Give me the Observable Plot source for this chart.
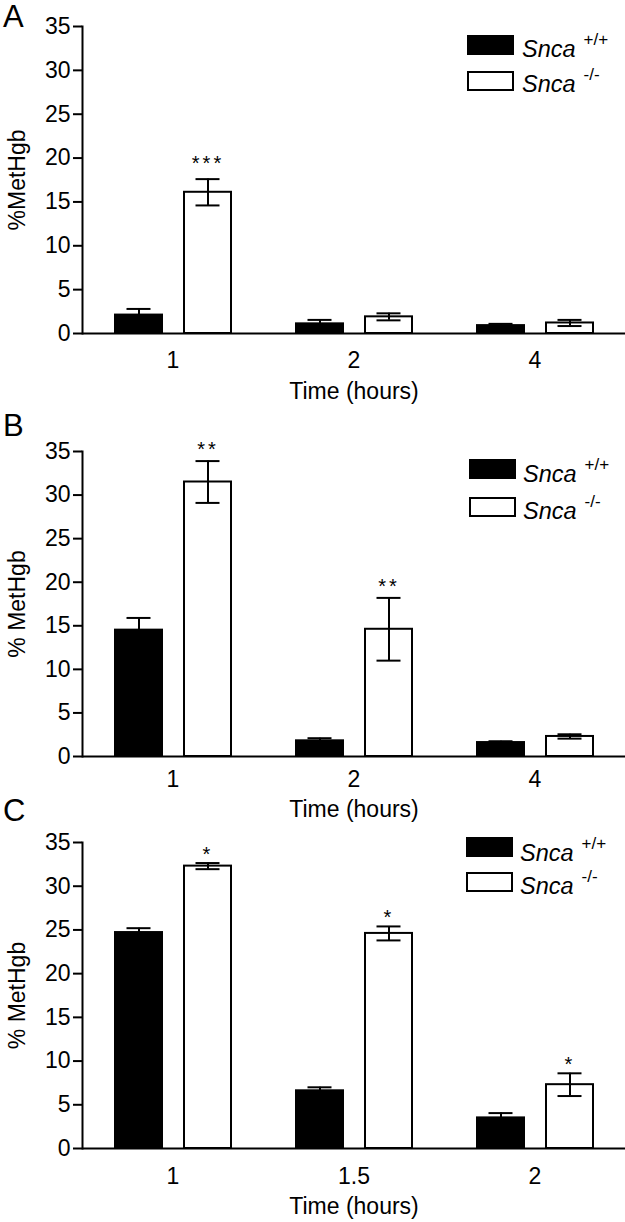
<!DOCTYPE html>
<html><head><meta charset="utf-8">
<script src="https://cdn.jsdelivr.net/npm/d3@7"></script>
<script src="https://cdn.jsdelivr.net/npm/@observablehq/plot@0.6"></script>
<style>
body{margin:0;background:#fff;}
#root{position:relative;width:625px;height:1222px;overflow:hidden;font-family:"Liberation Sans",Arial,Helvetica,sans-serif;color:#000;}
.panel{position:absolute;left:0;}
.letter{position:absolute;left:3px;font-size:31px;line-height:0.8;}
.sw{position:absolute;width:47px;height:20px;box-sizing:border-box;border:2px solid #000;}
.lt{position:absolute;font-size:23.5px;line-height:1;white-space:nowrap;}
.lt i{font-style:italic;}
.lt span{position:relative;font-size:17px;top:-12px;margin-left:8px;}
.sig text{letter-spacing:3px;}
</style></head><body><div id="root"></div>
<script>
const genotypes = ["+/+", "-/-"];
const yTicks = [0, 5, 10, 15, 20, 25, 30, 35];
const xLabel = "Time (hours)";

// Panel A
const timesA = ["1", "2", "4"];
const wtA = [2.1, 1.1, 0.9];
const wtSeA = [0.7, 0.45, 0.2];
const koA = [16.1, 1.9, 1.2];
const koSeA = [1.5, 0.4, 0.35];
const sigA = ["***", "", ""];

// Panel B
const timesB = ["1", "2", "4"];
const wtB = [14.5, 1.8, 1.6];
const wtSeB = [1.4, 0.3, 0.15];
const koB = [31.5, 14.6, 2.3];
const koSeB = [2.4, 3.6, 0.25];
const sigB = ["**", "**", ""];

// Panel C
const timesC = ["1", "1.5", "2"];
const wtC = [24.7, 6.6, 3.5];
const wtSeC = [0.5, 0.4, 0.55];
const koC = [32.3, 24.6, 7.3];
const koSeC = [0.35, 0.8, 1.3];
const sigC = ["*", "*", "*"];

const FONT = '"Liberation Sans", Arial, Helvetica, sans-serif';
const root = document.getElementById("root");

function makePanel(cfg) {
  const rows = [];
  cfg.times.forEach((t, i) => {
    rows.push({time: t, g: genotypes[0], mean: cfg.wt[i], se: cfg.wtSe[i], sig: ""});
    rows.push({time: t, g: genotypes[1], mean: cfg.ko[i], se: cfg.koSe[i], sig: cfg.sig[i]});
  });
  const chart = Plot.plot({
    width: 625,
    height: cfg.height,
    marginLeft: 82,
    marginRight: 0,
    marginTop: cfg.mt,
    marginBottom: cfg.mb,
    style: {fontFamily: FONT, fontSize: "23px", color: "#000", background: "#fff", overflow: "visible"},
    fx: {domain: cfg.times, padding: 0, axis: "bottom", label: xLabel, labelAnchor: "center", tickSize: 0, tickPadding: cfg.tp, labelOffset: cfg.lo},
    x: {domain: genotypes, paddingInner: 0.319, paddingOuter: 0.471, axis: null},
    y: {domain: [0, 35]},
    color: {domain: genotypes, range: ["#000", "#fff"]},
    marks: [
      Plot.barY(rows, {fx: "time", x: "g", y: "mean", fill: "g", stroke: "#000", strokeWidth: 2}),
      Plot.ruleX(rows, {fx: "time", x: "g", y1: d => d.mean - d.se, y2: d => d.mean + d.se, stroke: "#000", strokeWidth: 2}),
      Plot.tickY(rows, {fx: "time", x: "g", y: d => d.mean + d.se, stroke: "#000", strokeWidth: 2, insetLeft: 11.5, insetRight: 11.5}),
      Plot.tickY(rows, {fx: "time", x: "g", y: d => d.mean - d.se, stroke: "#000", strokeWidth: 2, insetLeft: 11.5, insetRight: 11.5}),
      Plot.ruleY([0], {stroke: "#000", strokeWidth: 2}),
      Plot.text(rows.filter(d => d.sig), {fx: "time", x: "g", y: d => d.mean + d.se, text: "sig", lineAnchor: "bottom", dy: cfg.sdy, fontSize: 20, fill: "#000", className: "sig"}),
      Plot.axisY({ticks: yTicks, tickSize: 9, tickPadding: 3, strokeWidth: 2, label: cfg.ylabel, labelAnchor: "center", labelArrow: "none", labelOffset: 74, tickFormat: d => String(d)}),
      Plot.frame({anchor: "left", facetAnchor: "left", stroke: "#000", strokeWidth: 2})
    ]
  });
  const wrap = document.createElement("div");
  wrap.className = "panel";
  wrap.style.top = cfg.top + "px";
  wrap.appendChild(chart);
  root.appendChild(wrap);

  // panel letter
  const L = document.createElement("div");
  L.className = "letter";
  L.textContent = cfg.letter;
  L.style.top = Math.max(0, cfg.letterBase - 0.7465 * 31) + "px";
  root.appendChild(L);

  // legend
  const lg = cfg.legend;
  [["#000", genotypes[0], lg.r1, lg.b1], ["#fff", genotypes[1], lg.r2, lg.b2]].forEach(([c, g, rt, base]) => {
    const sw = document.createElement("div");
    sw.className = "sw";
    sw.style.left = lg.x + "px";
    sw.style.top = rt + "px";
    sw.style.background = c;
    root.appendChild(sw);
    const t = document.createElement("div");
    t.className = "lt";
    t.style.left = lg.tx + "px";
    t.style.top = (base - 0.8465 * 23.5) + "px";
    t.innerHTML = "<i>Snca</i><span>" + g + "</span>";
    root.appendChild(t);
  });
}

makePanel({letter: "A", letterBase: 28.5, top: 0, height: 405, mt: 26, mb: 72, tp: 18, lo: 65, sdy: -9,
  ylabel: "%MetHgb", times: timesA, wt: wtA, wtSe: wtSeA, ko: koA, koSe: koSeA, sig: sigA,
  legend: {x: 467, tx: 522, r1: 35, r2: 71, b1: 58, b2: 93}});
makePanel({letter: "B", letterBase: 437, top: 405, height: 417, mt: 46, mb: 66, tp: 14, lo: 60, sdy: -5,
  ylabel: "% MetHgb", times: timesB, wt: wtB, wtSe: wtSeB, ko: koB, koSe: koSeB, sig: sigB,
  legend: {x: 469, tx: 523, r1: 459, r2: 497, b1: 483, b2: 520}});
makePanel({letter: "C", letterBase: 822, top: 822, height: 400, mt: 20, mb: 74, tp: 19, lo: 65, sdy: -2,
  ylabel: "% MetHgb", times: timesC, wt: wtC, wtSe: wtSeC, ko: koC, koSe: koSeC, sig: sigC,
  legend: {x: 466, tx: 520, r1: 837, r2: 872, b1: 862, b2: 895}});
</script>
</body></html>
